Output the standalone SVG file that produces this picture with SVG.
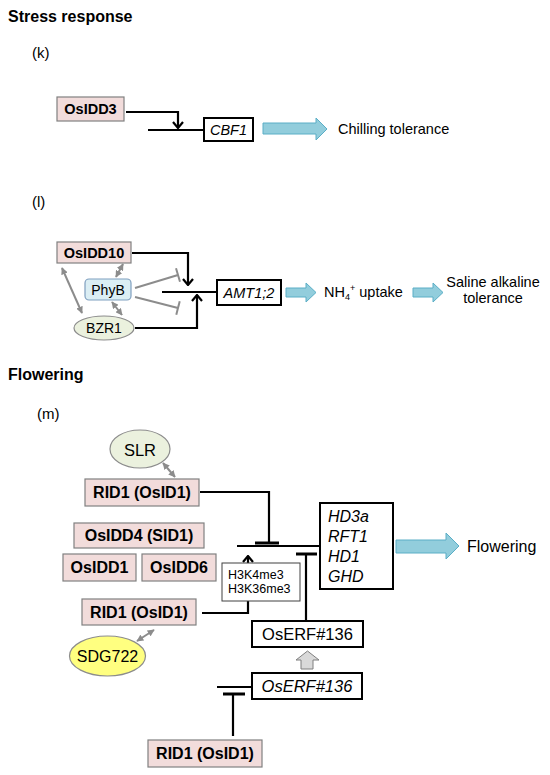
<svg xmlns="http://www.w3.org/2000/svg" width="550" height="775" viewBox="0 0 550 775">
<style>
text{font-family:"Liberation Sans",Arial,sans-serif;fill:#000}
.title{font-size:16px;font-weight:bold}
.lab{font-size:15px}
.pink{fill:#f2dcdb;stroke:#808080;stroke-width:1.2}
.bt{font-size:14.5px;font-weight:bold;text-anchor:middle}
.bt16{font-size:16px;font-weight:bold;text-anchor:middle}
.gene{fill:#fff;stroke:#000;stroke-width:2}
.it{font-style:italic}
.blk{fill:none;stroke:#000;stroke-width:2.2}
.bar{fill:none;stroke:#000;stroke-width:3}
.gry{fill:none;stroke:#8c8c8c;stroke-width:2}
.blue{fill:#92cddc;stroke:#5aaec6;stroke-width:1}
.t14{font-size:14.5px}
</style>
<defs>
<marker id="ah" viewBox="0 0 12 12" refX="11" refY="6" markerWidth="12" markerHeight="12" markerUnits="userSpaceOnUse" orient="auto">
<path d="M5,1 L11,6 L5,11" fill="none" stroke="#000" stroke-width="2.2"/>
</marker>
<marker id="ga" viewBox="0 0 10 10" refX="9" refY="5" markerWidth="7" markerHeight="7" markerUnits="userSpaceOnUse" orient="auto-start-reverse">
<path d="M0,0 L10,5 L0,10 Z" fill="#8c8c8c"/>
</marker>
</defs>

<text class="title" x="8" y="21.5">Stress response</text>
<text class="lab" x="32" y="58">(k)</text>
<text class="lab" x="32" y="207">(l)</text>
<text class="title" x="8" y="380">Flowering</text>
<text class="lab" x="37" y="419">(m)</text>

<g id="connectors">
<path class="blk" d="M126,112 H178 V128" marker-end="url(#ah)"/>
<path class="blk" d="M148,130 H204"/>
<path class="blk" d="M132,253 H188 V285" marker-end="url(#ah)"/>
<path class="blk" d="M162,292 H217"/>
<path class="blk" d="M135,328 H197 V295" marker-end="url(#ah)"/>
<path class="gry" d="M135,288 L178,275"/>
<path class="gry" d="M176,268.3 L180,281.7"/>
<path class="gry" d="M135,297 L178,308"/>
<path class="gry" d="M179.7,301.2 L176.3,314.8"/>
<path class="gry" d="M62,268 L82,313" marker-start="url(#ga)" marker-end="url(#ga)"/>
<path class="gry" d="M123,264 L116,277" marker-start="url(#ga)" marker-end="url(#ga)"/>
<path class="gry" d="M112,302 L122,315" marker-start="url(#ga)" marker-end="url(#ga)"/>
<path class="gry" d="M163,463 L175,477" marker-start="url(#ga)" marker-end="url(#ga)"/>
<path class="gry" d="M154,630 L137,641" marker-start="url(#ga)" marker-end="url(#ga)"/>
<path class="blk" d="M200,492 H269 V542"/>
<path class="bar" d="M255,543 H279"/>
<path class="blk" d="M237,546 H320"/>
<path class="blk" d="M202,613 H248 V556" marker-end="url(#ah)"/>
<path class="blk" d="M306,621 V555"/>
<path class="bar" d="M296,554 H317"/>
<path class="blk" d="M217,687 H252"/>
<path class="blk" d="M233,736 V695"/>
<path class="bar" d="M223,694 H245"/>
<path class="blue" d="M263,123 H316 V118 L327,129 L316,140 V134 H263 Z"/>
<path class="blue" d="M286,288 H306 V283 L316,292.5 L306,302 V297 H286 Z"/>
<path class="blue" d="M413,288 H433 V283 L443,292.5 L433,302 V297 H413 Z"/>
<path class="blue" d="M396,540 H446 V533 L459,546 L446,559 V553 H396 Z"/>
<path d="M301,669 V660 H296 L307.5,651 L319,660 H313 V669 Z" fill="#d9d9d9" stroke="#7f7f7f" stroke-width="1"/>
</g>

<g id="OsIDD3"><rect class="pink" x="57" y="97" width="67" height="24"/><text class="bt" x="90.5" y="114">OsIDD3</text></g>
<g id="CBF1"><rect class="gene" x="204" y="118" width="49" height="23"/><text class="it t14" x="228.5" y="135" text-anchor="middle">CBF1</text></g>
<g id="chilling"><text class="t14" x="338" y="134">Chilling tolerance</text></g>

<g id="OsIDD10"><rect class="pink" x="57" y="242" width="74" height="21"/><text class="bt" x="94" y="257.5">OsIDD10</text></g>
<g id="PhyB"><rect x="85" y="279" width="46" height="21" rx="4" fill="#dbeef4" stroke="#7f9fbf" stroke-width="1.2"/><text x="108" y="294.5" font-size="14" text-anchor="middle">PhyB</text></g>
<g id="BZR1"><ellipse cx="104" cy="328" rx="30" ry="12" fill="#ebf1de" stroke="#8c8c8c" stroke-width="1.2"/><text x="104" y="333" font-size="14" text-anchor="middle">BZR1</text></g>
<g id="AMT12"><rect class="gene" x="217" y="280" width="64" height="25"/><text class="it t14" x="249" y="298" text-anchor="middle">AMT1;2</text></g>
<g id="NH4"><text class="t14" x="324" y="297">NH<tspan font-size="9" dy="3">4</tspan><tspan font-size="9" dy="-9">+</tspan><tspan dy="6"> uptake</tspan></text></g>
<g id="saline"><text class="t14" x="493" y="287" text-anchor="middle">Saline alkaline</text><text class="t14" x="493" y="303" text-anchor="middle">tolerance</text></g>

<g id="SLR"><ellipse cx="140" cy="449" rx="30" ry="19" fill="#ebf1de" stroke="#8c8c8c" stroke-width="1.2"/><text x="140" y="455.5" font-size="16.5" text-anchor="middle">SLR</text></g>
<g id="RID1_top"><rect class="pink" x="85" y="479" width="114" height="27"/><text class="bt16" x="142" y="498">RID1 (OsID1)</text></g>
<g id="OsIDD4"><rect class="pink" x="74" y="523" width="130" height="25"/><text class="bt16" x="139" y="541">OsIDD4 (SID1)</text></g>
<g id="OsIDD1"><rect class="pink" x="63" y="554" width="73" height="27"/><text class="bt16" x="99.5" y="573">OsIDD1</text></g>
<g id="OsIDD6"><rect class="pink" x="142" y="554" width="74" height="27"/><text class="bt16" x="179" y="573">OsIDD6</text></g>
<g id="H3K"><rect x="222" y="563" width="78" height="38" fill="#fff" stroke="#404040" stroke-width="1"/><text x="228" y="579" font-size="12.5">H3K4me3</text><text x="228" y="593" font-size="12.5">H3K36me3</text></g>
<g id="HD3a"><rect class="gene" x="320" y="503" width="73" height="86"/><text class="it" font-size="16" x="328" y="522">HD3a</text><text class="it" font-size="16" x="328" y="542">RFT1</text><text class="it" font-size="16" x="328" y="562">HD1</text><text class="it" font-size="16" x="328" y="582">GHD</text></g>
<g id="flowering"><text x="467" y="552" font-size="16">Flowering</text></g>
<g id="RID1_mid"><rect class="pink" x="82" y="599" width="114" height="26"/><text class="bt16" x="139" y="618">RID1 (OsID1)</text></g>
<g id="SDG722"><ellipse cx="107.5" cy="656" rx="38" ry="20" fill="#ffff80" stroke="#8c8c8c" stroke-width="1.2"/><text x="107.5" y="662" font-size="16" text-anchor="middle">SDG722</text></g>
<g id="OsERF136_protein"><rect class="gene" x="252" y="621" width="111" height="26"/><text x="307.5" y="640" font-size="16.5" text-anchor="middle">OsERF#136</text></g>
<g id="OsERF136_gene"><rect class="gene" x="252" y="673" width="110" height="26"/><text class="it" x="307" y="692" font-size="16.5" text-anchor="middle">OsERF#136</text></g>
<g id="RID1_bottom"><rect class="pink" x="148" y="740" width="114" height="27"/><text class="bt16" x="205" y="759">RID1 (OsID1)</text></g>
</svg>
